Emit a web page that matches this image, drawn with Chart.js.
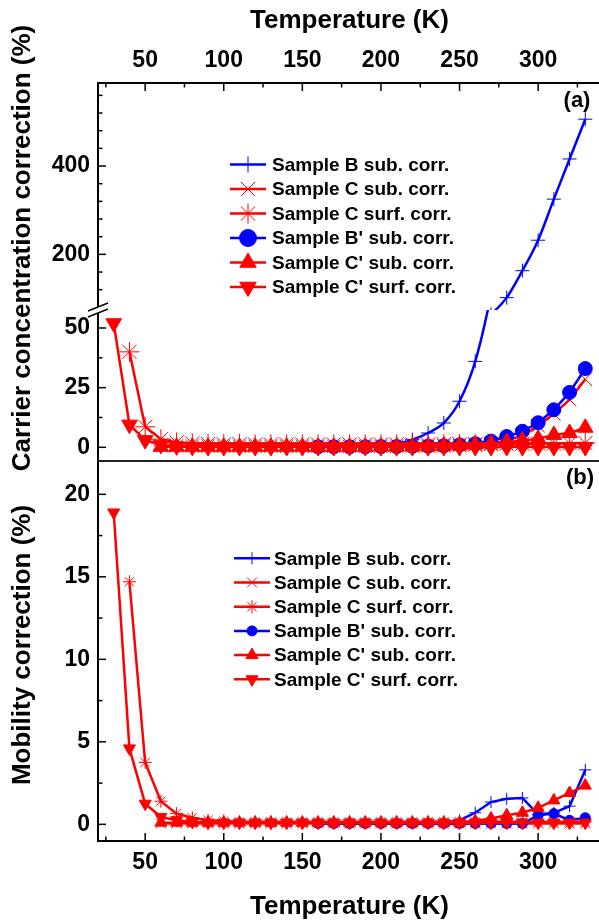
<!DOCTYPE html>
<html>
<head>
<meta charset="utf-8">
<title>Carrier concentration and mobility corrections</title>
<script src="https://cdn.jsdelivr.net/npm/chart.js@4.4.0/dist/chart.umd.min.js"></script>
<style>
  html, body { margin: 0; padding: 0; background: #fff; overflow: hidden; }
  #wrap { width: 612px; height: 921px; }
</style>
</head>
<body>
<div id="wrap"><canvas id="chart" width="612" height="921"></canvas></div>
<script>
// Temperature grids (K)
const tempsCp = [30, 40, 50, 60, 70, 80, 90, 100, 110, 120, 130, 140, 150, 160, 170, 180,
                 190, 200, 210, 220, 230, 240, 250, 260, 270, 280, 290, 300, 310, 320, 330];
const tempsC = [40, 50, 60, 70, 80, 90, 100, 110, 120, 130, 140, 150, 160, 170, 180,
                190, 200, 210, 220, 230, 240, 250, 260, 270, 280, 290, 300, 310, 320, 330];
const tempsCSub = [60, 70, 80, 90, 100, 110, 120, 130, 140, 150, 160, 170, 180,
                   190, 200, 210, 220, 230, 240, 250, 260, 270, 280, 290, 300, 310, 320, 330];
const tempsB = [160, 170, 180, 190, 200, 210, 220, 230, 240, 250, 260, 270, 280, 290, 300, 310, 320, 330];

// Axis ticks
const xTicks = [50, 100, 150, 200, 250, 300];
const xMinorTicks = [25, 75, 125, 175, 225, 275, 325];
const carrierHighTicks = [200, 400];
const carrierHighMinor = [120, 160, 240, 280, 320, 360, 440, 480, 520, 560];
const carrierLowTicks = [0, 25, 50];
const carrierLowMinor = [12.5, 37.5];
const mobilityTicks = [0, 5, 10, 15, 20];
const mobilityMinor = [2.5, 7.5, 12.5, 17.5];

const seriesLabels = [
    'Sample B sub. corr.',
    'Sample C sub. corr.',
    'Sample C surf. corr.',
    "Sample B' sub. corr.",
    "Sample C' sub. corr.",
    "Sample C' surf. corr."
];

// (a) carrier concentration correction (%)
const carrierBSub = [0.3, 0.3, 0.4, 0.5, 0.8, 1.5, 3.2, 6, 10.2, 19.3, 36, 64, 102, 163, 232, 325, 416, 506];
const carrierCSub = [0.8, 0.6, 0.5, 0.5, 0.4, 0.4, 0.4, 0.4, 0.4, 0.4, 0.4, 0.4, 0.4,
                     0.4, 0.4, 0.4, 0.5, 0.5, 0.6, 0.7, 1.0, 1.6, 2.8, 5, 9, 14, 20, 28.5];
const carrierCSurf = [40, 8.6, 3.4, 2.0, 1.6, 1.4, 1.3, 1.3, 1.2, 1.2, 1.2, 1.2, 1.2, 1.2, 1.2,
                      1.2, 1.2, 1.2, 1.2, 1.2, 1.3, 1.3, 1.3, 1.4, 1.5, 1.5, 1.6, 1.6, 1.7, 1.8];
const carrierBpSub = [0.2, 0.2, 0.2, 0.2, 0.3, 0.3, 0.4, 0.5, 0.6, 1.0, 1.5, 2.6, 4.5, 6.7, 10.3, 15.7, 23, 33];
const carrierCpSub = [0.2, 0.2, 0.2, 0.2, 0.2, 0.2, 0.2, 0.2, 0.2, 0.2, 0.2, 0.2, 0.2,
                      0.2, 0.3, 0.3, 0.4, 0.5, 0.7, 0.9, 1.2, 1.6, 2.2, 2.8, 3.6, 5.2, 6.0, 8.2];
const carrierCpSurf = [52, 9.5, 3.0, 1.0, 0.4, 0.2, 0.1, 0.1, 0.1, 0.1, 0.1, 0.1, 0.1, 0.1, 0.1, 0.1,
                       0.1, 0.1, 0.1, 0.1, 0.1, 0.1, 0.1, 0.1, 0.1, 0.1, 0.1, 0.1, 0.1, 0.1, 0.1];

// (b) mobility correction (%)
const mobBSub = [0.1, 0.1, 0.1, 0.1, 0.1, 0.1, 0.1, 0.1, 0.1, 0.25, 0.7, 1.35, 1.55, 1.6, 0.6, 0.7, 1.1, 3.3];
const mobCSub = [0.05, 0.05, 0.05, 0.05, 0.05, 0.05, 0.05, 0.05, 0.05, 0.05, 0.05, 0.05, 0.05,
                 0.05, 0.05, 0.05, 0.05, 0.05, 0.05, 0.05, 0.05, 0.05, 0.05, 0.05, 0.05, 0.05, 0.05, 0.05];
const mobCSurf = [14.7, 3.75, 1.4, 0.65, 0.4, 0.25, 0.2, 0.15, 0.15, 0.15, 0.15, 0.15, 0.15, 0.15, 0.15,
                  0.15, 0.15, 0.15, 0.15, 0.15, 0.15, 0.15, 0.15, 0.15, 0.15, 0.15, 0.15, 0.15, 0.15, 0.15];
const mobBpSub = [0.05, 0.05, 0.05, 0.05, 0.05, 0.05, 0.05, 0.05, 0.05, 0.05, 0.05, 0.05, 0.05, 0.05, 0.55, 0.65, 0.25, 0.4];
const mobCpSub = [0.1, 0.1, 0.1, 0.1, 0.1, 0.1, 0.1, 0.1, 0.1, 0.1, 0.1, 0.1, 0.1,
                  0.1, 0.1, 0.1, 0.1, 0.1, 0.1, 0.1, 0.2, 0.35, 0.55, 0.7, 1.0, 1.45, 1.9, 2.35];
const mobCpSurf = [18.9, 4.6, 1.25, 0.45, 0.25, 0.15, 0.1, 0.1, 0.1, 0.1, 0.1, 0.1, 0.1, 0.1, 0.1, 0.1,
                   0.1, 0.1, 0.1, 0.1, 0.1, 0.1, 0.1, 0.1, 0.1, 0.1, 0.1, 0.1, 0.1, 0.1, 0.1];

// Styles
const FONT = "'Liberation Sans', Arial, Helvetica, sans-serif";
const BLUE = '#0000ff';
const RED = '#ff0000';
const seriesStyles = [
    { color: BLUE, pointStyle: 'cross', rotation: 0 },
    { color: RED, pointStyle: 'crossRot', rotation: 0 },
    { color: RED, pointStyle: 'star', rotation: 0 },
    { color: BLUE, pointStyle: 'circle', rotation: 0 },
    { color: RED, pointStyle: 'triangle', rotation: 0 },
    { color: RED, pointStyle: 'triangle', rotation: 180 }
];
const radiusA = [7, 9.5, 10, 7, 9, 9];
const radiusB = [6, 7, 6.5, 5, 7, 7];
const legendRadiusA = [8, 10, 10, 8.5, 9.5, 9.5];

function points(xs, ys) {
    return xs.map((x, i) => ({ x: x, y: ys[i] }));
}

function makeDataset(k, xs, ys, yAxisID, radius, extra) {
    const s = seriesStyles[k];
    return Object.assign({
        label: seriesLabels[k],
        data: points(xs, ys),
        xAxisID: 'x',
        yAxisID: yAxisID,
        borderColor: s.color,
        backgroundColor: s.color,
        borderWidth: 2.5,
        pointStyle: s.pointStyle,
        pointRotation: s.rotation,
        pointRadius: radius[k],
        pointHoverRadius: radius[k],
        pointBorderWidth: 1,
        pointBackgroundColor: s.color,
        pointBorderColor: s.color,
        tension: 0,
        clip: false,
        order: 5 - k
    }, extra || {});
}

const smooth = { cubicInterpolationMode: 'monotone' };

const datasets = [
    // panel (a), the broken axis needs sample B on both segments
    makeDataset(0, tempsB, carrierBSub, 'yLow', radiusA, smooth),
    makeDataset(0, tempsB, carrierBSub, 'yHigh', radiusA, smooth),
    makeDataset(1, tempsCSub, carrierCSub, 'yLow', radiusA),
    makeDataset(2, tempsC, carrierCSurf, 'yLow', radiusA),
    makeDataset(3, tempsB, carrierBpSub, 'yLow', radiusA),
    makeDataset(4, tempsCSub, carrierCpSub, 'yLow', radiusA),
    makeDataset(5, tempsCp, carrierCpSurf, 'yLow', radiusA),
    // panel (b)
    makeDataset(0, tempsB, mobBSub, 'yMob', radiusB),
    makeDataset(1, tempsCSub, mobCSub, 'yMob', radiusB),
    makeDataset(2, tempsC, mobCSurf, 'yMob', radiusB),
    makeDataset(3, tempsB, mobBpSub, 'yMob', radiusB),
    makeDataset(4, tempsCSub, mobCpSub, 'yMob', radiusB),
    makeDataset(5, tempsCp, mobCpSurf, 'yMob', radiusB)
];

const tickFont = { family: FONT, size: 23, weight: 'bold' };
const titleFont = { family: FONT, size: 26, weight: 'bold', lineHeight: 1 };

function fixedTicks(values) {
    return function (scale) {
        scale.ticks = values.map(v => ({ value: v }));
    };
}

function xAxis(position, height, titlePadding, tickPadding) {
    return {
        type: 'linear',
        position: position,
        min: 20,
        max: 340,
        afterBuildTicks: fixedTicks(xTicks),
        afterFit: function (scale) { scale.height = height; },
        grid: { display: false, drawTicks: false },
        border: { display: true, color: '#000', width: 2 },
        ticks: { font: tickFont, padding: tickPadding, autoSkip: false, maxRotation: 0, color: '#000' },
        title: { display: true, text: 'Temperature (K)', font: titleFont, color: '#000', padding: titlePadding }
    };
}

function yAxis(min, max, ticks, weight, stackWeight) {
    return {
        type: 'linear',
        position: 'left',
        stack: 'left',
        stackWeight: stackWeight,
        weight: weight,
        min: min,
        max: max,
        afterBuildTicks: fixedTicks(ticks),
        afterFit: function (scale) { scale.width = 98; },
        grid: { display: false, drawTicks: false },
        border: { display: true, color: '#000', width: 2 },
        ticks: { font: tickFont, padding: 8, autoSkip: false, color: '#000' }
    };
}

// Inward tick marks, drawn from the scales
const tickSpecs = [
    { id: 'x', major: xTicks, minor: xMinorTicks },
    { id: 'x2', major: xTicks, minor: xMinorTicks },
    { id: 'yHigh', major: carrierHighTicks, minor: carrierHighMinor },
    { id: 'yLow', major: carrierLowTicks, minor: carrierLowMinor },
    { id: 'yMob', major: mobilityTicks, minor: mobilityMinor }
];

function drawInwardTicks(chart) {
    const ctx = chart.ctx;
    ctx.save();
    ctx.strokeStyle = '#000';
    ctx.lineWidth = 1.5;
    tickSpecs.forEach(spec => {
        const scale = chart.scales[spec.id];
        const marks = spec.major.map(v => [v, 8]).concat(spec.minor.map(v => [v, 4.5]));
        marks.forEach(([v, len]) => {
            const p = scale.getPixelForValue(v);
            ctx.beginPath();
            if (scale.position === 'bottom') {
                ctx.moveTo(p, scale.top); ctx.lineTo(p, scale.top - len);
            } else if (scale.position === 'top') {
                ctx.moveTo(p, scale.bottom); ctx.lineTo(p, scale.bottom + len);
            } else {
                ctx.moveTo(scale.right, p); ctx.lineTo(scale.right + len, p);
            }
            ctx.stroke();
        });
    });
    ctx.restore();
}

const legendSpecs = [
    { x1: 230, x2: 266, textX: 272, top: 164.5, step: 24.5, radius: legendRadiusA },
    { x1: 234, x2: 270, textX: 274, top: 558.3, step: 24.2, radius: radiusB }
];

function drawLegend(ctx, spec) {
    ctx.save();
    ctx.font = 'bold 19px ' + FONT;
    ctx.textBaseline = 'middle';
    ctx.textAlign = 'left';
    seriesLabels.forEach((label, k) => {
        const y = spec.top + k * spec.step;
        const s = seriesStyles[k];
        ctx.strokeStyle = s.color;
        ctx.lineWidth = 2.5;
        ctx.beginPath();
        ctx.moveTo(spec.x1, y);
        ctx.lineTo(spec.x2, y);
        ctx.stroke();
        ctx.fillStyle = s.color;
        ctx.lineWidth = 1;
        Chart.helpers.drawPoint(ctx, {
            pointStyle: s.pointStyle, rotation: s.rotation, radius: spec.radius[k], borderWidth: 1
        }, (spec.x1 + spec.x2) / 2, y);
        ctx.fillStyle = '#000';
        ctx.fillText(label, spec.textX, y + 1);
    });
    ctx.restore();
}

function drawRotatedText(ctx, text, x, y) {
    ctx.save();
    ctx.translate(x, y);
    ctx.rotate(-Math.PI / 2);
    ctx.font = 'bold 26px ' + FONT;
    ctx.textAlign = 'center';
    ctx.textBaseline = 'middle';
    ctx.fillStyle = '#000';
    ctx.fillText(text, 0, 0);
    ctx.restore();
}

const decorPlugin = {
    id: 'decor',
    beforeDatasetsDraw(chart) {
        drawInwardTicks(chart);
    },
    beforeDatasetDraw(chart, args) {
        // clip each series to its own axis segment
        const meta = args.meta;
        const ctx = chart.ctx;
        ctx.save();
        ctx.beginPath();
        ctx.rect(meta.xScale.left - 14, meta.yScale.top,
                 meta.xScale.right - meta.xScale.left + 28, meta.yScale.bottom - meta.yScale.top);
        ctx.clip();
    },
    afterDatasetDraw(chart) {
        chart.ctx.restore();
    },
    afterDraw(chart) {
        const ctx = chart.ctx;
        const area = chart.chartArea;
        const yLow = chart.scales.yLow;

        // line between the two panels
        ctx.save();
        ctx.strokeStyle = '#222';
        ctx.lineWidth = 2;
        ctx.beginPath();
        ctx.moveTo(area.left - 1, yLow.bottom);
        ctx.lineTo(area.right, yLow.bottom);
        ctx.stroke();

        // axis break marks
        const yb = yLow.top;
        const xb = area.left;
        ctx.fillStyle = '#fff';
        ctx.beginPath();
        ctx.moveTo(xb - 9, yb + 1); ctx.lineTo(xb + 9, yb - 7);
        ctx.lineTo(xb + 9, yb - 1); ctx.lineTo(xb - 9, yb + 7);
        ctx.closePath();
        ctx.fill();
        ctx.strokeStyle = '#000';
        ctx.lineWidth = 1.5;
        [-3, 3].forEach(o => {
            ctx.beginPath();
            ctx.moveTo(xb - 10, yb + o + 4);
            ctx.lineTo(xb + 10, yb + o - 4);
            ctx.stroke();
        });

        // panel labels
        ctx.font = 'bold 22px ' + FONT;
        ctx.fillStyle = '#000';
        ctx.textAlign = 'center';
        ctx.textBaseline = 'middle';
        ctx.fillText('(a)', 577, 101);
        ctx.fillText('(b)', 580, 478);
        ctx.restore();

        drawRotatedText(ctx, 'Carrier concentration correction (%)', 23, 248);
        drawRotatedText(ctx, 'Mobility correction (%)', 23, 645);

        legendSpecs.forEach(spec => drawLegend(ctx, spec));
    }
};

Chart.defaults.font.family = FONT;
Chart.defaults.color = '#000';

const chart = new Chart(document.getElementById('chart').getContext('2d'), {
    type: 'line',
    data: { datasets: datasets },
    options: {
        responsive: false,
        animation: false,
        devicePixelRatio: 1,
        events: [],
        layout: { padding: { left: 0, right: 10.5, top: 0, bottom: 0 } },
        plugins: {
            legend: { display: false },
            tooltip: { enabled: false }
        },
        scales: {
            x: xAxis('bottom', 80, { top: 0, bottom: 1 }, 8),
            x2: xAxis('top', 83, { top: 8, bottom: 0 }, 9),
            yHigh: yAxis(74, 588, carrierHighTicks, 3, 227),
            yLow: yAxis(-5.74, 57.54, carrierLowTicks, 2, 151),
            yMob: yAxis(-1.01, 22.02, mobilityTicks, 1, 380)
        }
    },
    plugins: [decorPlugin]
});
</script>
</body>
</html>
